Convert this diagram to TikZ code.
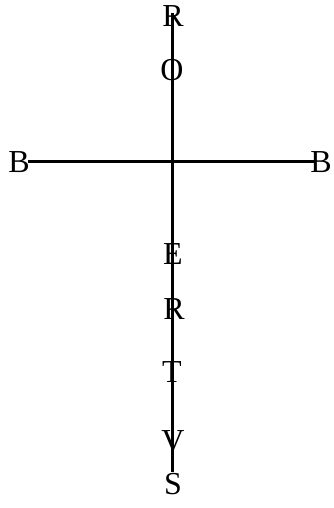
\documentclass[tikz,border=0pt]{standalone}
\usepackage{fontspec}
\setmainfont{Liberation Serif}
\begin{document}
\begin{tikzpicture}[x=1pt,y=-1pt,
  letter/.style={inner sep=0pt,font=\fontsize{32}{32}\selectfont},
  bar/.style={line width=3pt}]
\useasboundingbox (0,0) rectangle (333,508);
\coordinate (vtop) at (172,13);
\coordinate (vbot) at (172,472);
\coordinate (hl) at (28,161);
\coordinate (hr) at (316,161);
\draw[bar] (vtop) -- (vbot);
\draw[bar] (hl) -- (hr);
\node[letter] (r1) at (173,16) {R};
\node[letter] (o) at (172,70) {O};
\node[letter] (bl) at (19,162) {B};
\node[letter] (br) at (321,162) {B};
\node[letter] (e) at (173,254) {E};
\node[letter] (r2) at (174,309) {R};
\node[letter] (t) at (172,372) {T};
\node[letter] (v) at (173,441) {V};
\node[letter] (s) at (173,484) {S};
\end{tikzpicture}
\end{document}
